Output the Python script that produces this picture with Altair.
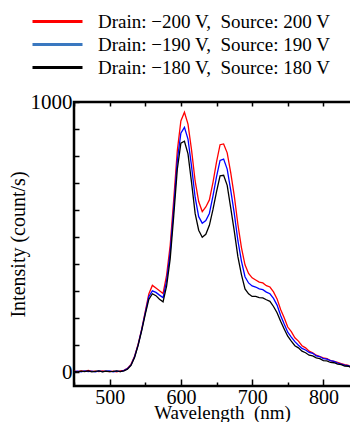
import altair as alt
import pandas as pd

wavelength = list(range(450, 855, 5))

red = [5, 3, 6, 4, 8, 4, 5, 3, 6, 4, 3, 5, 2, 6, 8, 15, 30, 60, 105, 160,
       225, 290, 322, 312, 302, 292, 360, 470, 640, 820, 930, 962, 918, 822, 708, 632,
       595, 612, 638, 702, 778, 842, 845, 812, 738, 652, 548, 462, 398, 366, 350,
       342, 334, 331, 321, 316, 298, 272, 233, 202, 168, 151, 128, 116, 99, 91,
       79, 73, 64, 59, 54, 51, 44, 41, 37, 33, 29, 26, 20, 18, 12]

blue = [3, 5, 2, 6, 3, 5, 2, 6, 3, 5, 6, 2, 5, 3, 7, 14, 28, 58, 102, 158,
        220, 280, 302, 296, 286, 277, 340, 445, 610, 785, 885, 906, 863, 762, 648, 576,
        552, 562, 588, 652, 723, 784, 789, 752, 673, 587, 488, 412, 354, 331, 320,
        316, 309, 306, 297, 291, 274, 249, 211, 179, 149, 131, 114, 101, 89, 83,
        74, 71, 61, 59, 51, 49, 44, 41, 35, 31, 27, 25, 19, 17, 12]

black = [4, 2, 5, 3, 6, 2, 4, 6, 2, 5, 3, 4, 6, 3, 6, 12, 26, 55, 100, 155,
         215, 270, 291, 284, 271, 261, 320, 420, 580, 752, 848, 855, 808, 702, 588, 526,
         500, 511, 544, 602, 668, 727, 729, 692, 608, 522, 428, 362, 309, 291, 281,
         281, 277, 276, 269, 263, 244, 221, 189, 161, 134, 116, 99, 91, 79, 73,
         64, 61, 54, 51, 44, 43, 37, 36, 31, 29, 24, 23, 17, 15, 10]

series = ["Drain: \u2212200 V,\u00a0 Source: 200 V",
          "Drain: \u2212190 V,\u00a0 Source: 190 V",
          "Drain: \u2212180 V,\u00a0 Source: 180 V"]
line_colors = ["#ff0000", "#0000ff", "#000000"]
legend_colors = ["#ff0000", "#3a78c0", "#000000"]

x_major = [500, 600, 700, 800]
x_minor = [450, 550, 650, 750, 850]
y_labels = [0, 1000]
y_ticks = [0, 100, 200, 300, 400, 500, 600, 700, 800, 900, 1000]

rows = []
for name, vals in zip(series, [red, blue, black]):
    for w, v in zip(wavelength, vals):
        rows.append({"wl": w, "val": v, "series": name})
df = pd.DataFrame(rows)

W, H = 285, 284
FONT = "Liberation Serif"

x_scale = alt.Scale(domain=[450, 850], nice=False, zero=False)
y_scale = alt.Scale(domain=[-50, 1000], nice=False, zero=False)

base = alt.Chart(df)

lines = base.mark_line(strokeWidth=1.3, clip=True).encode(
    x=alt.X("wl:Q", scale=x_scale,
            axis=alt.Axis(orient="bottom", values=x_major, ticks=False, domain=False,
                          grid=False, labelFontSize=20, labelFont=FONT, labelColor="black",
                          labelPadding=1, title="Wavelength\u00a0 (nm)", titleFont=FONT,
                          titleFontSize=19, titleFontWeight="normal", titleColor="black",
                          titlePadding=-4, titleX=148)),
    y=alt.Y("val:Q", scale=y_scale,
            axis=alt.Axis(orient="left", values=y_labels, format="d", ticks=False, domain=False,
                          grid=False, labelFontSize=21, labelFont=FONT, labelColor="black",
                          labelPadding=2, title="Intensity (count/s)", titleFont=FONT,
                          titleFontSize=20, titleFontWeight="normal", titleColor="black",
                          titlePadding=2)),
    color=alt.Color("series:N", scale=alt.Scale(domain=series, range=line_colors), legend=None),
    order=alt.Order("ord:Q"),
).transform_calculate(ord="indexof(%s, datum.series)" % str(series).replace("'", '"'))


def tick_axis(orient, values, size, offset):
    return alt.Axis(orient=orient, values=values, labels=False, ticks=True, tickSize=size,
                    tickWidth=1.5, tickColor="black", domain=False, grid=False,
                    title=None, offset=offset)


def tick_layer(x_axis, y_axis):
    return base.mark_point(opacity=0).encode(
        x=alt.X("wl:Q", scale=x_scale, axis=x_axis),
        y=alt.Y("val:Q", scale=y_scale, axis=y_axis),
    )


# ticks pointing inward: bottom (axis oriented top, shifted down), top, left, right
l_bottom_major = tick_layer(tick_axis("top", x_major, 7, -H), tick_axis("right", y_ticks, 5, -W))
l_bottom_minor = tick_layer(tick_axis("top", x_minor, 4, -H), tick_axis("left", y_ticks, 5, -W))
l_top_major = tick_layer(tick_axis("bottom", x_major + x_minor, 4, -H), None)

legend_layer = base.mark_line(opacity=0).encode(
    x=alt.X("wl:Q", scale=x_scale, axis=None),
    y=alt.Y("val:Q", scale=y_scale, axis=None),
    color=alt.Color("series:N", scale=alt.Scale(domain=series, range=legend_colors),
                    legend=alt.Legend(title=None, orient="none", legendX=-26, legendY=-90,
                                      symbolType="M-5,0L5,0", symbolSize=100,
                                      symbolStrokeWidth=3, symbolOpacity=1,
                                      labelFont=FONT, labelFontSize=19, labelColor="black",
                                      labelOffset=31, rowPadding=3, labelLimit=400)),
)

chart = alt.layer(lines, l_bottom_major, l_bottom_minor, l_top_major, legend_layer).resolve_axis(
    x="independent", y="independent"
).resolve_scale(color="independent").properties(
    width=W, height=H,
    autosize=alt.AutoSizeParams(type="none"),
    padding={"left": 66, "top": 94, "right": -9, "bottom": 36},
).configure_view(stroke="black", strokeWidth=2.5)

chart.save("out.html", embed_options={"renderer": "svg", "actions": False})
